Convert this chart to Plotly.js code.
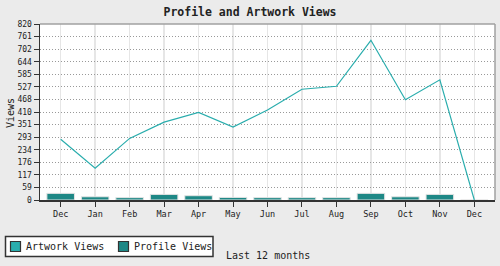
<!DOCTYPE html>
<html>
<head>
<meta charset="utf-8">
<script src="https://cdn.plot.ly/plotly-3.0.1.min.js"></script>
<style>html,body{margin:0;padding:0;background:#ebebeb;}#chart{width:500px;height:266px;}</style>
</head>
<body>
<div id="chart"></div>
<script>
const months = ['Dec','Jan','Feb','Mar','Apr','May','Jun','Jul','Aug','Sep','Oct','Nov','Dec'];
const artworkViews = [283, 148, 287, 363, 408, 340, 419, 516, 530, 744, 467, 560, 0];
const profileViews = [31, 15, 11, 26, 20, 12, 11, 11, 11, 31, 15, 26, 0];
const yTickLabels = ['0','59','117','176','234','293','351','410','468','527','585','644','702','761','820'];
const seriesNames = ['Artwork Views', 'Profile Views'];
const yMax = 820;

const xIdx = months.map((m, i) => i);
const font = 'DejaVu Sans Mono, monospace';
const artColor = '#2aadad';
const profColor = '#1e8886';

// pixel -> paper helpers (plot area: x 40..495, y 24..200)
const L = 40, R = 5, T = 24, B = 66, W = 500, H = 266;
const pw = W - L - R, ph = H - T - B;
const px = v => (v - L) / pw;
const py = v => (H - B - v) / ph;

const traces = [
  {type:'bar', x:xIdx, y:profileViews, name:seriesNames[1], width:0.8,
   marker:{color:profColor, line:{color:'#e4e4e4', width:1}}},
  {type:'scatter', mode:'lines', x:xIdx, y:artworkViews, name:seriesNames[0],
   line:{color:artColor, width:1.2}}
];

const layout = {
  width:W, height:H,
  margin:{l:L, r:R, t:T, b:B, autoexpand:false},
  paper_bgcolor:'#ebebeb', plot_bgcolor:'#ffffff',
  font:{family:font, color:'#222', size:10},
  title:{text:'<b>Profile and Artwork Views</b>', font:{family:font, size:11.5, color:'#222'}, x:0.5, xanchor:'center', y:0.955, yanchor:'middle'},
  showlegend:false,
  xaxis:{type:'linear', range:[-0.6, 12.6], tickvals:xIdx, ticktext:months,
    showgrid:true, gridcolor:'#e6e6e6', gridwidth:1.5, zeroline:false,
    showline:true, linecolor:'#333', linewidth:1.5, ticks:'outside', ticklen:5, tickcolor:'#333',
    tickfont:{family:font, size:8.5, color:'#222'}, fixedrange:true},
  yaxis:{range:[0, yMax], tickvals:yTickLabels.map((t,i)=>yMax*i/14), ticktext:yTickLabels,
    showgrid:true, gridcolor:'#999', griddash:'1px,2px', gridwidth:1, zeroline:false,
    showline:true, linecolor:'#333', linewidth:1.5, ticks:'outside', ticklen:5, tickcolor:'#333',
    tickfont:{family:font, size:8, color:'#222'}, fixedrange:true},
  shapes:[
    {type:'line', xref:'paper', yref:'paper', x0:0, x1:1, y0:1, y1:1, line:{color:'#a0a0a0', width:1.5}},
    {type:'line', xref:'paper', yref:'paper', x0:1, x1:1, y0:0, y1:1, line:{color:'#a0a0a0', width:1.5}},
    // legend box
    {type:'rect', xref:'paper', yref:'paper', x0:px(5.5), x1:px(213), y0:py(236.5), y1:py(256.5), fillcolor:'#ffffff', line:{color:'#333', width:1.5}},
    {type:'rect', xref:'paper', yref:'paper', x0:px(10.5), x1:px(20.5), y0:py(241.5), y1:py(251.5), fillcolor:artColor, line:{color:'#333', width:1.2}},
    {type:'rect', xref:'paper', yref:'paper', x0:px(118.5), x1:px(128.5), y0:py(241.5), y1:py(251.5), fillcolor:profColor, line:{color:'#333', width:1.2}}
  ],
  annotations:[
    {text:'Views', xref:'paper', yref:'paper', x:px(11), y:py(113), xanchor:'center', yanchor:'middle', textangle:-90,
     showarrow:false, font:{family:font, size:10, color:'#222'}},
    {text:seriesNames[0], xref:'paper', yref:'paper', x:px(24), y:py(246.5), xanchor:'left', yanchor:'middle',
     showarrow:false, font:{family:font, size:10, color:'#222'}},
    {text:seriesNames[1], xref:'paper', yref:'paper', x:px(132), y:py(246.5), xanchor:'left', yanchor:'middle',
     showarrow:false, font:{family:font, size:10, color:'#222'}},
    {text:'Last 12 months', xref:'paper', yref:'paper', x:px(224), y:py(255), xanchor:'left', yanchor:'middle',
     showarrow:false, font:{family:font, size:10, color:'#222'}}
  ]
};

Plotly.newPlot('chart', traces, layout, {displayModeBar:false, staticPlot:true});
</script>
</body>
</html>
